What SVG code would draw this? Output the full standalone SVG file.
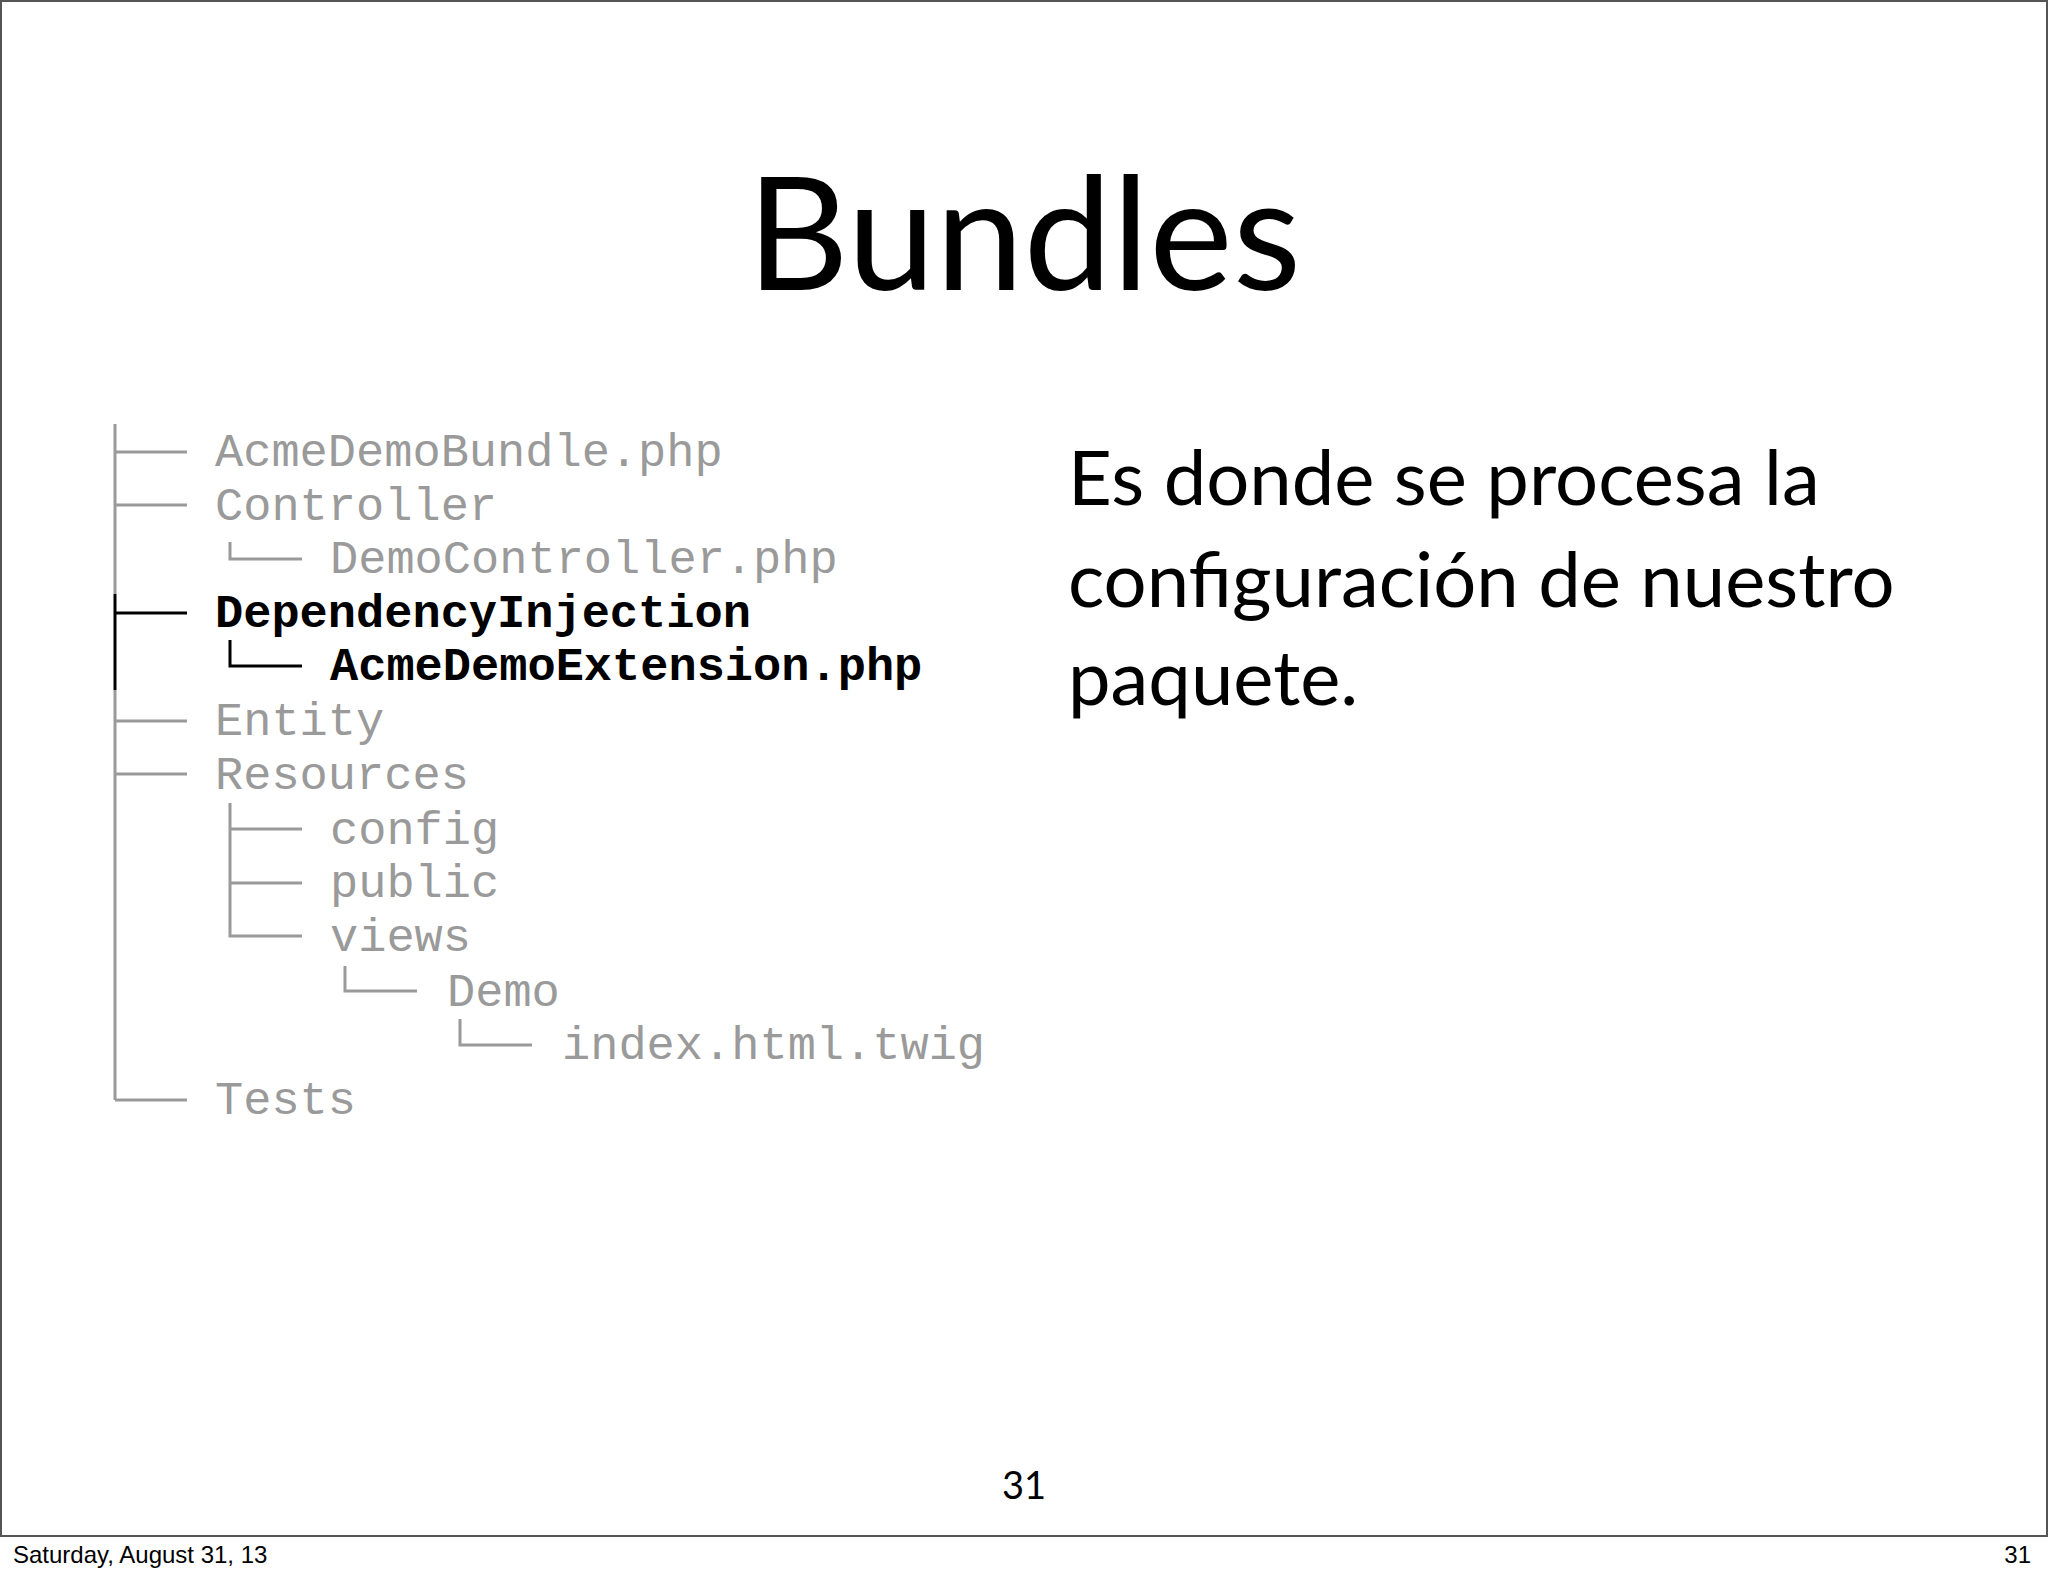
<svg xmlns="http://www.w3.org/2000/svg" width="2048" height="1576" viewBox="0 0 2048 1576">
<style>
.t{font-family:"Liberation Mono",monospace;font-size:47px;fill:#9a9a9a}
.b{font-family:"Liberation Mono",monospace;font-size:47px;fill:#000;font-weight:bold}
.g{stroke:#9a9a9a;stroke-width:3;fill:none}
.k{stroke:#000;stroke-width:3;fill:none}
.s{font-family:Lato,"Noto Sans",sans-serif;fill:#000}
</style>
<rect x="0" y="0" width="2048" height="1576" fill="#fff"/>
<rect x="1" y="1" width="2046" height="1535" fill="#fff" stroke="#555" stroke-width="2"/>
<text class="s" x="1024" y="290" font-size="158" text-anchor="middle">Bundles</text>
<g id="connectors">
<path class="g" d="M115 424V594M115 690V1100M115 452H187M115 505H187M115 721H187M115 774H187M115 1100H187M230 542V559H302M230 803V936H302M230 829H302M230 883H302M345 966V991H417M460 1019V1045H532"/>
<path class="k" d="M115 594V690M115 613H187M230 640V666H302"/>
</g>
<g id="tree">
<text class="t" x="215" y="466">AcmeDemoBundle.php</text>
<text class="t" x="215" y="520">Controller</text>
<text class="t" x="330" y="573">DemoController.php</text>
<text class="b" x="215" y="627">DependencyInjection</text>
<text class="b" x="330" y="680">AcmeDemoExtension.php</text>
<text class="t" x="215" y="735">Entity</text>
<text class="t" x="215" y="789">Resources</text>
<text class="t" x="330" y="844">config</text>
<text class="t" x="330" y="897">public</text>
<text class="t" x="330" y="951">views</text>
<text class="t" x="447" y="1006">Demo</text>
<text class="t" x="562" y="1059">index.html.twig</text>
<text class="t" x="215" y="1114">Tests</text>
</g>
<g id="desc" class="s" font-size="76">
<text x="1068" y="505">Es donde se procesa la</text>
<text x="1068" y="607">configuración de nuestro</text>
<text x="1068" y="705">paquete.</text>
</g>
<text class="s" x="1024" y="1499" font-size="38" text-anchor="middle">31</text>
<text x="13" y="1563" font-family="Liberation Sans,sans-serif" font-size="24">Saturday, August 31, 13</text>
<text x="2031" y="1563" font-family="Liberation Sans,sans-serif" font-size="24" text-anchor="end">31</text>
</svg>
